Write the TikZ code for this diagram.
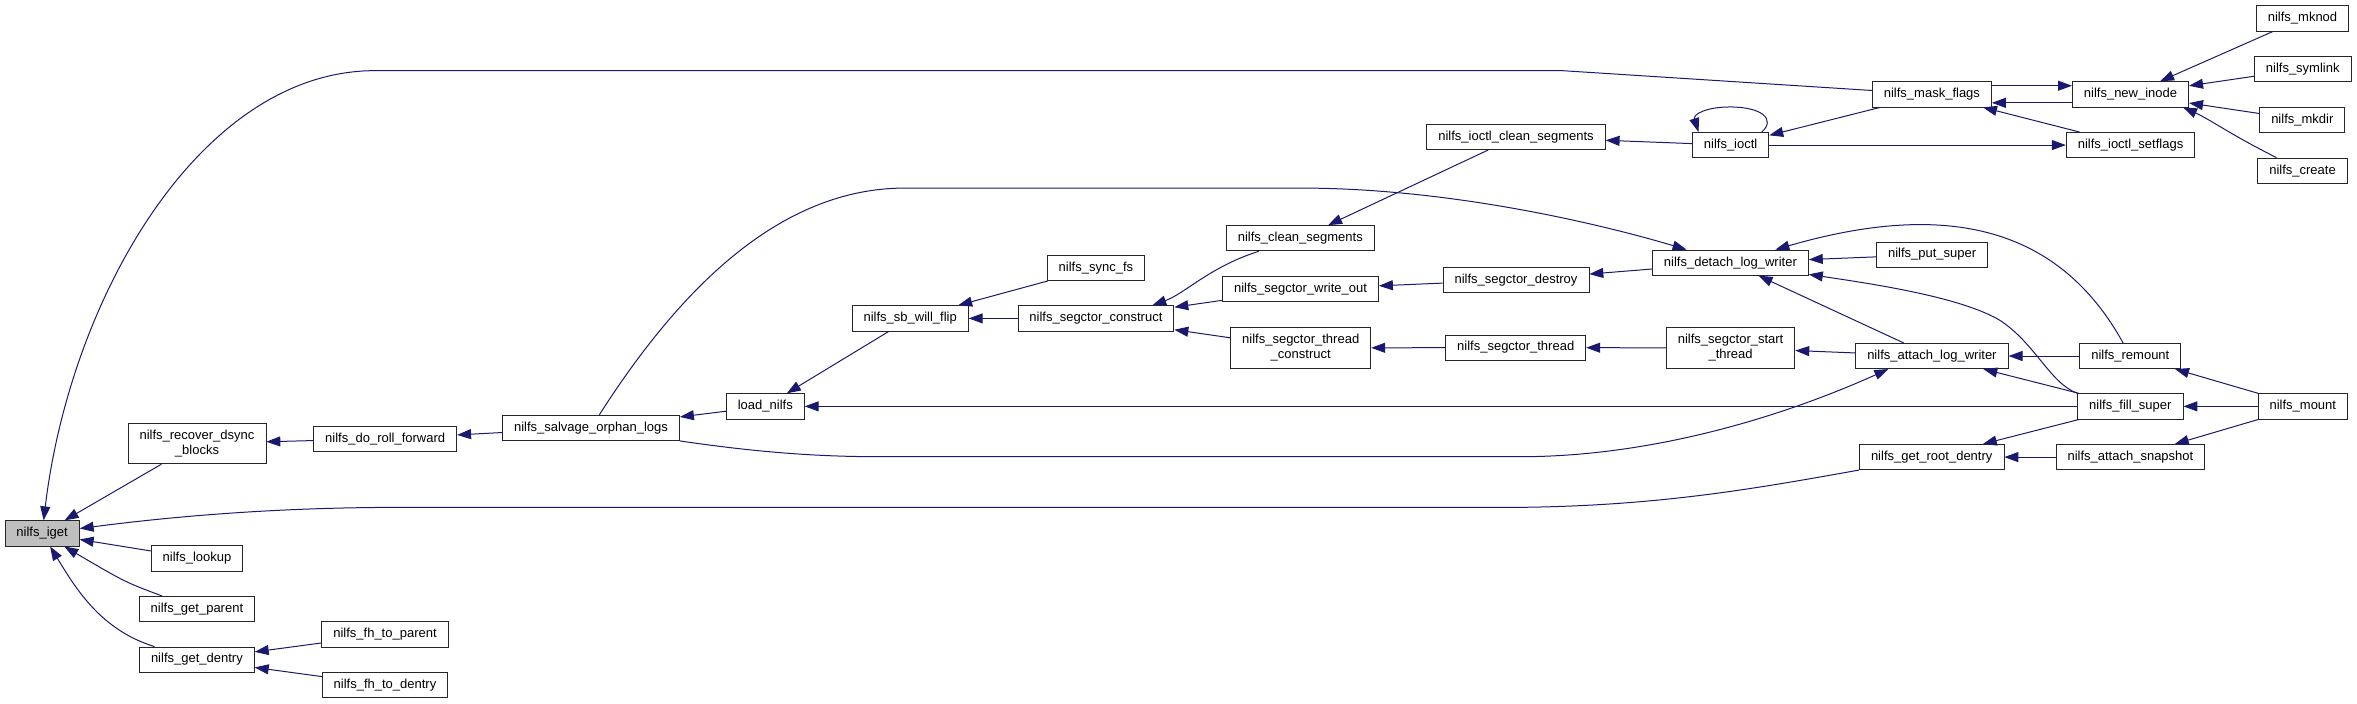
\documentclass[tikz,border=0pt]{standalone}
\usepackage{fontspec}
\setmainfont{Liberation Sans}
\usetikzlibrary{arrows.meta}
\definecolor{edgeblue}{HTML}{191970}
\definecolor{rootgray}{HTML}{BFBFBF}

\begin{document}
\begin{tikzpicture}[
    x=1pt, y=-0.995pt,
    every node/.style={font=\fontsize{13}{15}\selectfont},
    fn/.style={
        rectangle,
        draw=black!85,
        fill=white,
        line width=0.8pt,
        inner xsep=11.5pt,
        inner ysep=0pt,
        minimum height=25.3pt,
        align=center
    },
    fntwo/.style={fn, minimum height=40.6pt},
    arrow/.style={line width=1pt, -{Triangle[length=14pt, width=10pt]}, color=edgeblue}
]
\useasboundingbox (0,0) rectangle (2357,707.5);

\node[fn, fill=rootgray] (iget) at (42.1,536.1) {nilfs\_iget};

\node[fntwo] (recover) at (197,445.8) {nilfs\_recover\_dsync\\\_blocks};
\node[fn] (lookup) at (197,561.2) {nilfs\_lookup};
\node[fn] (gparent) at (196.9,612.1) {nilfs\_get\_parent};
\node[fn] (gdentry) at (196.9,662.9) {nilfs\_get\_dentry};

\node[fn] (droll) at (385.2,440.9) {nilfs\_do\_roll\_forward};
\node[fn] (fhparent) at (385,637.7) {nilfs\_fh\_to\_parent};
\node[fn] (fhdentry) at (385,688.6) {nilfs\_fh\_to\_dentry};

\node[fn] (salvage) at (591,430) {nilfs\_salvage\_orphan\_logs};
\node[fn] (loadn) at (765.3,408.4) {load\_nilfs};
\node[fn] (sbflip) at (910.2,320) {nilfs\_sb\_will\_flip};

\node[fn] (syncfs) at (1095.9,269.2) {nilfs\_sync\_fs};
\node[fn] (construct) at (1095.9,320) {nilfs\_segctor\_construct};

\node[fn] (cleanseg) at (1300.3,239.4) {nilfs\_clean\_segments};
\node[fn] (writeout) at (1300.5,290.6) {nilfs\_segctor\_write\_out};
\node[fntwo] (tconstruct) at (1300.7,349.7) {nilfs\_segctor\_thread\\\_construct};

\node[fn] (ioctlclean) at (1516,137.6) {nilfs\_ioctl\_clean\_segments};
\node[fn] (destroy) at (1516,281.4) {nilfs\_segctor\_destroy};
\node[fn] (sthread) at (1515.7,349.3) {nilfs\_segctor\_thread};

\node[fn] (ioctl) at (1730.6,145.8) {nilfs\_ioctl};
\node[fn] (detach) at (1730.4,264) {nilfs\_detach\_log\_writer};
\node[fntwo] (startthr) at (1730.6,349.7) {nilfs\_segctor\_start\\\_thread};

\node[fn] (mask) at (1931.9,94.8) {nilfs\_mask\_flags};
\node[fn] (putsuper) at (1932.1,255.9) {nilfs\_put\_super};
\node[fn] (attach) at (1931.9,357.8) {nilfs\_attach\_log\_writer};
\node[fn] (groot) at (1931.7,459.4) {nilfs\_get\_root\_dentry};

\node[fn] (newinode) at (2130.5,94.8) {nilfs\_new\_inode};
\node[fn] (setflags) at (2130.5,145.8) {nilfs\_ioctl\_setflags};
\node[fn] (remount) at (2130.3,357.8) {nilfs\_remount};
\node[fn] (fill) at (2130.3,408.4) {nilfs\_fill\_super};
\node[fn] (snapshot) at (2130.4,459.4) {nilfs\_attach\_snapshot};

\node[fn] (mknod) at (2302.5,18.5) {nilfs\_mknod};
\node[fn] (symlink) at (2302.7,69.5) {nilfs\_symlink};
\node[fn] (mkdir) at (2302.3,120.5) {nilfs\_mkdir};
\node[fn] (create) at (2302.5,171.5) {nilfs\_create};
\node[fn] (mount) at (2302.8,408.4) {nilfs\_mount};

% calls into nilfs_iget
\draw[arrow] (recover) -- (iget);
\draw[arrow] (lookup) -- (iget);
\draw[arrow] (gparent) .. controls (125,585) .. (iget);
\draw[arrow] (gdentry) .. controls (100,633) and (75,590) .. (iget);
\draw[arrow] (mask) -- (1562,71) -- (375,71) .. controls (200,71) and (70,300) .. (iget);
\draw[arrow] (groot) .. controls (1750,492) and (1650,510) .. (1500,510) -- (380,510) .. controls (250,511) and (150,522) .. (iget);

\draw[arrow] (fhparent) -- (gdentry);
\draw[arrow] (fhdentry) -- (gdentry);
\draw[arrow] (droll) -- (recover);
\draw[arrow] (salvage) -- (droll);
\draw[arrow] (loadn) -- (salvage);
\draw[arrow] (salvage) .. controls (680,290) and (780,189) .. (905,189) -- (1300,189) .. controls (1450,189) and (1600,225) .. (detach);
\draw[arrow] (salvage) .. controls (760,455) and (820,459) .. (880,459) -- (1520,459) .. controls (1650,459) and (1780,420) .. ([xshift=33pt]attach.south west);
\draw[arrow] (sbflip) -- (loadn);
\draw[arrow] (fill) -- (loadn);
\draw[arrow] (syncfs) -- (sbflip);
\draw[arrow] (construct) -- (sbflip);
\draw[arrow] (cleanseg) .. controls (1210,268) and (1185,295) .. ([xshift=-22pt]construct.north east);
\draw[arrow] (writeout) -- (construct);
\draw[arrow] (tconstruct) -- (construct);
\draw[arrow] (ioctlclean) -- (cleanseg);
\draw[arrow] (destroy) -- (writeout);
\draw[arrow] (sthread) -- (tconstruct);
\draw[arrow] (detach) -- (destroy);
\draw[arrow] (startthr) -- (sthread);
\draw[arrow] (ioctl) -- (ioctlclean);
\draw[arrow] ([xshift=-7.5pt]ioctl.north east) .. controls (1776,120) and (1762,107.5) .. (1730,107.5) .. controls (1706,107.5) and (1693,115) .. ([xshift=6.5pt]ioctl.north west);
\draw[arrow] (mask) -- (ioctl);
\draw[arrow] (ioctl) -- (setflags);
\draw[arrow] ([yshift=8.6pt]mask.east) -- ([yshift=8.6pt]newinode.west);
\draw[arrow] ([yshift=-8.5pt]newinode.west) -- ([yshift=-8.5pt]mask.east);
\draw[arrow] (setflags) -- (mask);
\draw[arrow] (mknod) -- (newinode);
\draw[arrow] (symlink) -- (newinode);
\draw[arrow] (mkdir) -- (newinode);
\draw[arrow] (create) .. controls (2230,135) and (2210,120) .. ([xshift=-6pt]newinode.south east);
\draw[arrow] (putsuper) -- (detach);
\draw[arrow] (remount) .. controls (2060,230) and (1950,200) .. (detach);
\draw[arrow] (fill.north west) .. controls (2050,385) and (2035,345) .. (2000,322) .. controls (1960,298) and (1870,285) .. (detach);
\draw[arrow] (attach) -- (detach);
\draw[arrow] (attach) -- (startthr);
\draw[arrow] (remount) -- (attach);
\draw[arrow] (fill) -- (attach);
\draw[arrow] (mount) -- (remount);
\draw[arrow] (mount) -- (fill);
\draw[arrow] (fill) -- (groot);
\draw[arrow] (snapshot) -- (groot);
\draw[arrow] (mount) -- (snapshot);

\end{tikzpicture}
\end{document}
